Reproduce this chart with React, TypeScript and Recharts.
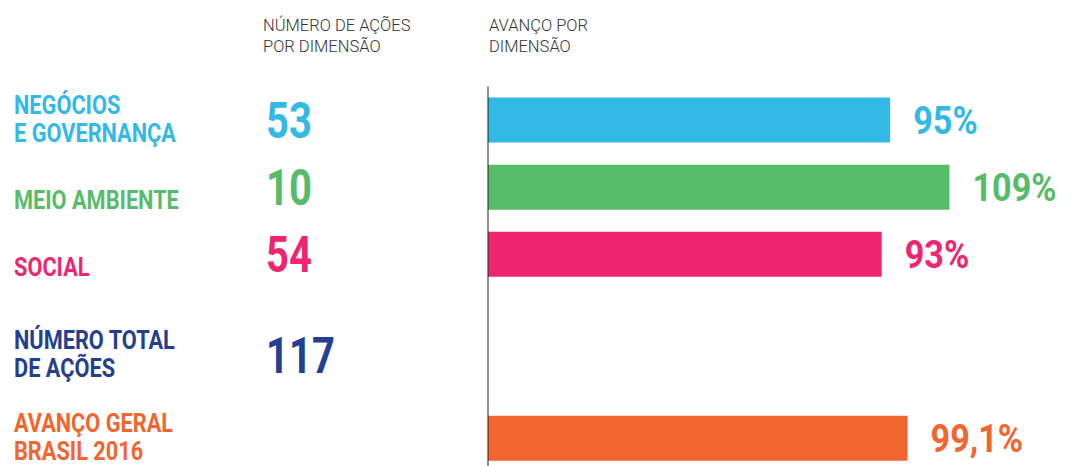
import React from 'react'
import { BarChart, Bar, XAxis, YAxis, Cell, LabelList } from 'recharts'

// dimension rows
const dimensionNames = ['NEGÓCIOS\nE GOVERNANÇA', 'MEIO AMBIENTE', 'SOCIAL']
const actionCounts = [53, 10, 54]
const dimensionProgress = [95, 109, 93]
const dimensionColors = ['#33b9e5', '#57bc6a', '#ee2670']

// summary rows
const totalName = 'NÚMERO TOTAL\nDE AÇÕES'
const totalActions = 117
const overallName = 'AVANÇO GERAL\nBRASIL 2016'
const overallProgress = 99.1
const summaryColors = ['#253f8f', '#f3652e']

const headerLeft = ['NÚMERO DE AÇÕES', 'POR DIMENSÃO']
const headerRight = ['AVANÇO POR', 'DIMENSÃO']

const BOLD_FONT = 'Roboto, "Liberation Sans", sans-serif'

interface Row {
    name: string
    count: number | null
    value: number | null
    color: string
}

const dimensionRows: Row[] = dimensionNames.map((name, i) => ({
    name,
    count: actionCounts[i],
    value: dimensionProgress[i],
    color: dimensionColors[i],
}))

const summaryRows: Row[] = [
    { name: totalName, count: totalActions, value: null, color: summaryColors[0] },
    { name: overallName, count: null, value: overallProgress, color: summaryColors[1] },
]

const fmtPct = (v: number) => v.toLocaleString('pt-BR', { maximumFractionDigits: 1 }) + '%'

// condensed bold text (no narrow font installed, so squeeze horizontally)
function NarrowText({ x, y, size, squeeze, color, children }: {
    x: number; y: number; size: number; squeeze: number; color: string; children: React.ReactNode
}) {
    return (
        <g transform={`translate(${x},${y}) scale(${squeeze},1)`}>
            <text x={0} y={0} fill={color} fontFamily={BOLD_FONT} fontWeight="bold" fontSize={size}>
                {children}
            </text>
        </g>
    )
}

function makeTick(rows: Row[]) {
    return (props: any) => {
        const { y, payload } = props
        const row = rows.find(r => r.name === payload.value)
        if (!row) return null
        const lines = row.name.split('\n')
        const lastBase = y + 22
        return (
            <g>
                {lines.map((ln, i) => (
                    <NarrowText key={i} x={14} y={lastBase - (lines.length - 1 - i) * 28} size={25} squeeze={0.87} color={row.color}>
                        {ln}
                    </NarrowText>
                ))}
                {row.count != null && (
                    <NarrowText x={266} y={y + 18} size={50} squeeze={0.8} color={row.color}>
                        {row.count}
                    </NarrowText>
                )}
            </g>
        )
    }
}

function makePctLabel(rows: Row[]) {
    return (props: any) => {
        const { x, y, width, height, value } = props
        if (value == null) return null
        const row = rows.find(r => r.value === value)
        return (
            <NarrowText x={x + width + 23} y={y + height / 2 + 14} size={38} squeeze={0.9} color={row ? row.color : '#000'}>
                {fmtPct(value)}
            </NarrowText>
        )
    }
}

const headerStyle: React.CSSProperties = {
    position: 'absolute',
    top: 16,
    fontFamily: 'Roboto, "Open Sans", sans-serif',
    fontWeight: 300,
    fontSize: 16.5,
    lineHeight: '20.5px',
    color: '#333',
}

export default function App() {
    return (
        <div style={{ position: 'absolute', left: 0, top: 0, width: 1074, height: 466, overflow: 'hidden', background: '#fff' }}>
            <div style={{ ...headerStyle, left: 263 }}>
                {headerLeft.map(h => <div key={h}>{h}</div>)}
            </div>
            <div style={{ ...headerStyle, left: 489 }}>
                {headerRight.map(h => <div key={h}>{h}</div>)}
            </div>

            <div style={{ position: 'absolute', left: 0, top: 0 }}>
                <BarChart layout="vertical" width={1074} height={288} data={dimensionRows}
                    margin={{ top: 86.5, right: 78, bottom: 0, left: 0 }} barSize={45}>
                    <XAxis type="number" domain={[0, 120]} hide />
                    <YAxis type="category" dataKey="name" width={488} interval={0}
                        axisLine={{ stroke: '#231f20', strokeWidth: 1 }} tickLine={false}
                        tick={makeTick(dimensionRows)} />
                    <Bar dataKey="value" isAnimationActive={false}>
                        {dimensionRows.map(r => <Cell key={r.name} fill={r.color} />)}
                        <LabelList dataKey="value" content={makePctLabel(dimensionRows)} />
                    </Bar>
                </BarChart>
            </div>

            <div style={{ position: 'absolute', left: 0, top: 288 }}>
                <BarChart layout="vertical" width={1074} height={192} data={summaryRows}
                    margin={{ top: 0, right: 78, bottom: 0, left: 0 }} barSize={45}>
                    <XAxis type="number" domain={[0, 120]} hide />
                    <YAxis type="category" dataKey="name" width={488} interval={0} padding={{ top: 25.5, bottom: 0 }}
                        axisLine={{ stroke: '#231f20', strokeWidth: 1 }} tickLine={false}
                        tick={makeTick(summaryRows)} />
                    <Bar dataKey="value" isAnimationActive={false}>
                        {summaryRows.map(r => <Cell key={r.name} fill={r.color} />)}
                        <LabelList dataKey="value" content={makePctLabel(summaryRows)} />
                    </Bar>
                </BarChart>
            </div>
        </div>
    )
}
